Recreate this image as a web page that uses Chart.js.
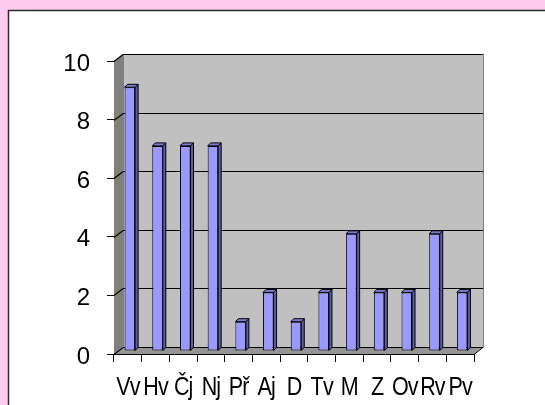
<!DOCTYPE html>
<html>
<head>
<meta charset="utf-8">
<script src="https://cdn.jsdelivr.net/npm/chart.js@4/dist/chart.umd.min.js"></script>
<style>
  html, body { margin:0; padding:0; background:#ffccee; }
  #wrap { position:absolute; left:0; top:0; width:545px; height:405px; }
</style>
</head>
<body>
<div id="wrap"><canvas id="c" width="545" height="405"></canvas></div>
<script>
// subjects and counts
const subjects = ['Vv','Hv','Čj','Nj','Př','Aj','D','Tv','M','Z','Ov','Rv','Pv'];
const counts = [9, 7, 7, 7, 1, 2, 1, 2, 4, 2, 2, 4, 2];
const yTicks = [0, 2, 4, 6, 8, 10];

const DX = 9, DY = -7;      // depth of the walls
const BX = 2, BY = -3;      // bars sit a bit into the depth
const SX = 3, SY = -3;      // bar side / top depth

const frame3d = {
  id: 'frame3d',
  beforeDraw(chart){
    const ctx = chart.ctx;
    ctx.save();
    ctx.fillStyle = '#ffccee';
    ctx.fillRect(0, 0, 545, 405);
    ctx.fillStyle = '#ffffff';
    ctx.fillRect(9, 11, 536, 394);
    ctx.strokeStyle = '#2a2a2a';
    ctx.lineWidth = 1.5;
    ctx.beginPath();
    ctx.moveTo(8.5, 405); ctx.lineTo(8.5, 10.5); ctx.lineTo(545, 10.5);
    ctx.stroke();
    ctx.restore();
  },
  beforeDatasetsDraw(chart){
    const ctx = chart.ctx, a = chart.chartArea, y = chart.scales.y;
    const L = a.left, R = a.right, T = y.getPixelForValue(10), B = y.getPixelForValue(0);
    ctx.save();
    // back wall
    ctx.fillStyle = '#c0c0c0';
    ctx.fillRect(L + DX, T + DY, R - L, B - T);
    ctx.strokeStyle = '#808080';
    ctx.lineWidth = 1;
    ctx.strokeRect(L + DX + 0.5, T + DY + 0.5, R - L, B - T);
    // side wall
    ctx.fillStyle = '#808080';
    ctx.beginPath();
    ctx.moveTo(L, T); ctx.lineTo(L + DX, T + DY); ctx.lineTo(L + DX, B + DY); ctx.lineTo(L, B);
    ctx.closePath(); ctx.fill();
    // floor
    ctx.fillStyle = '#959595';
    ctx.beginPath();
    ctx.moveTo(L, B); ctx.lineTo(L + DX, B + DY); ctx.lineTo(R + DX, B + DY); ctx.lineTo(R, B);
    ctx.closePath(); ctx.fill();
    ctx.strokeStyle = '#000';
    ctx.beginPath();
    ctx.moveTo(R, B + 0.5); ctx.lineTo(R + DX, B + DY + 0.5);
    ctx.stroke();
    // gridlines on side and back wall
    ctx.strokeStyle = '#000';
    ctx.lineWidth = 1.2;
    yTicks.forEach(v => {
      const py = Math.round(y.getPixelForValue(v)) + 0.5;
      ctx.beginPath();
      ctx.moveTo(L, py); ctx.lineTo(L + DX, py + DY); ctx.lineTo(R + DX, py + DY);
      ctx.stroke();
    });
    ctx.restore();
    ctx.save();
    ctx.translate(BX, BY);
  },
  afterDatasetsDraw(chart){
    const ctx = chart.ctx;
    const meta = chart.getDatasetMeta(0);
    ctx.lineWidth = 1;
    ctx.strokeStyle = '#000';
    meta.data.forEach(bar => {
      const p = bar.getProps(['x','y','base','width'], true);
      const l = p.x - p.width / 2, r = p.x + p.width / 2;
      // side
      ctx.fillStyle = '#5c5ca8';
      ctx.beginPath();
      ctx.moveTo(r, p.y); ctx.lineTo(r + SX, p.y + SY); ctx.lineTo(r + SX, p.base + SY); ctx.lineTo(r, p.base);
      ctx.closePath(); ctx.fill(); ctx.stroke();
      // top
      ctx.fillStyle = '#7a7ad0';
      ctx.beginPath();
      ctx.moveTo(l, p.y); ctx.lineTo(l + SX, p.y + SY); ctx.lineTo(r + SX, p.y + SY); ctx.lineTo(r, p.y);
      ctx.closePath(); ctx.fill(); ctx.stroke();
    });
    ctx.restore();
  },
  afterDraw(chart){
    // category labels, squeezed like the original
    const ctx = chart.ctx, x = chart.scales.x;
    ctx.save();
    ctx.fillStyle = '#000';
    ctx.font = '25px "Liberation Sans", Arial, sans-serif';
    ctx.textAlign = 'center';
    ctx.textBaseline = 'alphabetic';
    if ('letterSpacing' in ctx) ctx.letterSpacing = '-1px';
    subjects.forEach((s, i) => {
      ctx.save();
      ctx.translate(x.getPixelForValue(i), 395);
      ctx.scale(0.86, 1);
      ctx.fillText(s, 0, 0);
      ctx.restore();
    });
    ctx.restore();
  }
};

new Chart(document.getElementById('c'), {
  type: 'bar',
  data: {
    labels: subjects,
    datasets: [{
      data: counts,
      backgroundColor: '#9999ff',
      borderColor: '#000',
      borderWidth: 1,
      borderSkipped: false,
      categoryPercentage: 1,
      barPercentage: 0.38,
      clip: false
    }]
  },
  options: {
    responsive: false,
    animation: false,
    devicePixelRatio: 1,
    layout: { padding: { left: 0, top: 61, right: 71, bottom: 0 } },
    plugins: { legend: { display: false }, tooltip: { enabled: false } },
    scales: {
      x: {
        offset: true,
        grid: { offset: true, drawOnChartArea: false, drawTicks: true, tickLength: 8, color: '#000' },
        border: { color: '#000', width: 1 },
        ticks: { display: false },
        afterFit(s){ s.height = 51; }
      },
      y: {
        min: 0, max: 10,
        afterBuildTicks(s){ s.ticks = yTicks.map(v => ({ value: v })); },
        grid: { drawOnChartArea: false, drawTicks: true, tickLength: 7, color: '#000' },
        border: { color: '#000', width: 1 },
        ticks: { color: '#000', padding: 17, labelOffset: 3, font: { family: '"Liberation Sans", Arial, sans-serif', size: 24 } },
        afterFit(s){ s.width = 114; }
      }
    }
  },
  plugins: [frame3d]
});
</script>
</body>
</html>
